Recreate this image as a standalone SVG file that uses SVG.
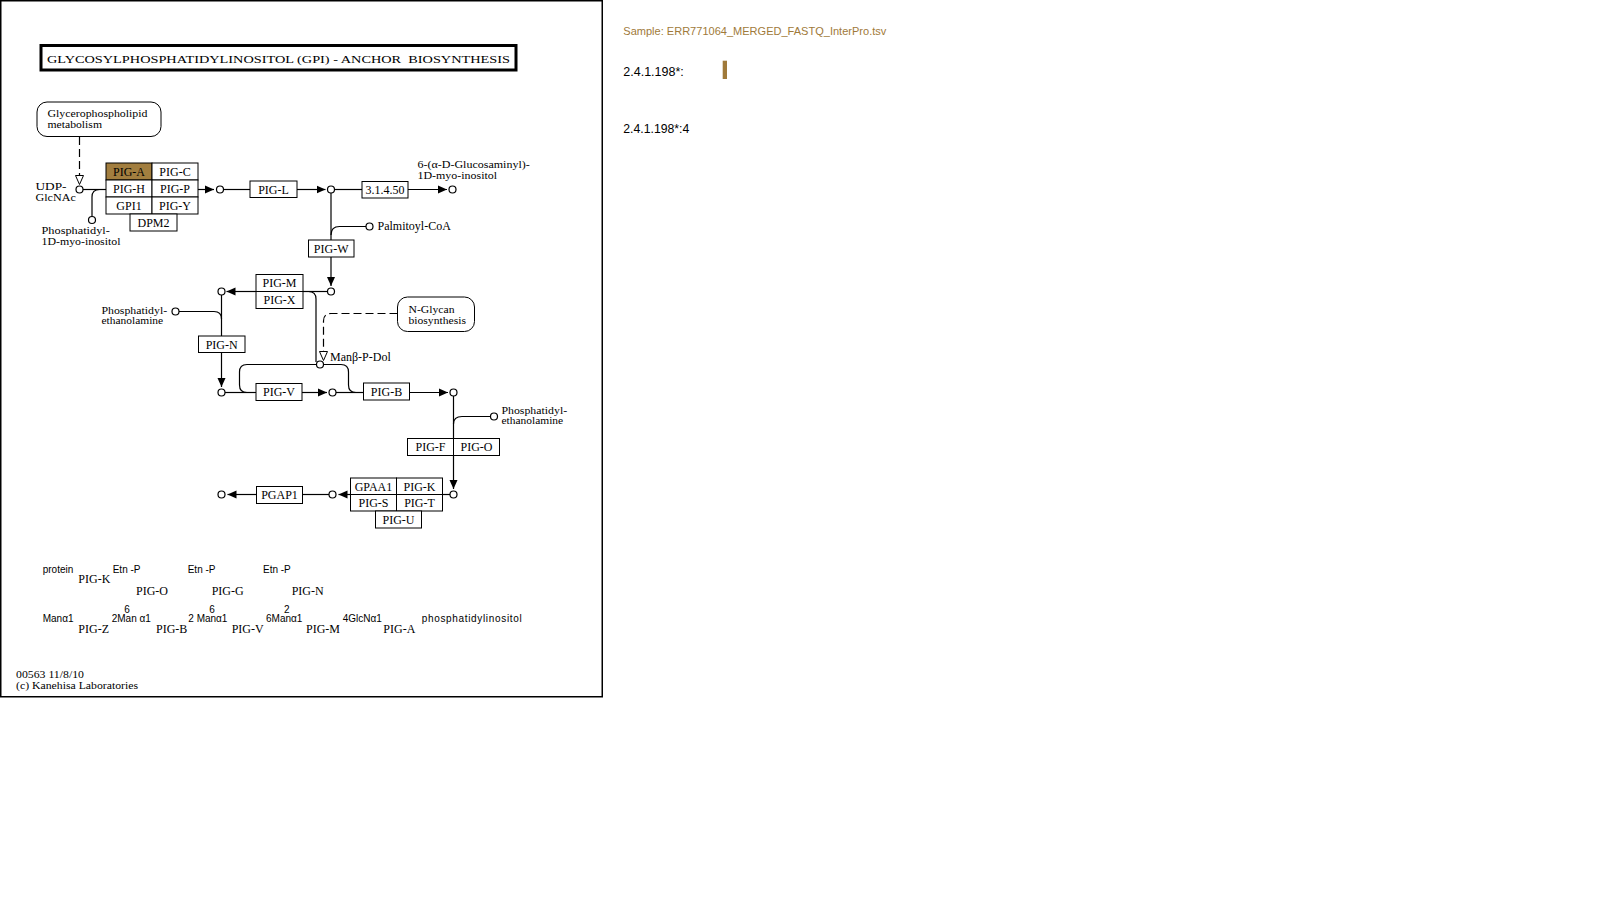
<svg xmlns="http://www.w3.org/2000/svg" width="1607" height="897" viewBox="0 0 1607 897">
<style>
.t{font-family:'Liberation Serif','Times New Roman',serif;font-size:12px;fill:#000}
.m{font-family:'Liberation Serif','Times New Roman',serif;font-size:10.5px;fill:#000}
.c{text-anchor:middle}
.s{font-family:'Liberation Sans',Arial,sans-serif;font-size:10px;fill:#000}
.r{font-family:'Liberation Sans',Arial,sans-serif;font-size:12px;fill:#000}
.box{fill:#fff;stroke:#000;stroke-width:1}
.hit{fill:#A27E3F;stroke:#000;stroke-width:1}
.ln{fill:none;stroke:#000;stroke-width:1.2}
.dash{stroke-dasharray:8,4}
.cp{fill:#fff;stroke:#000;stroke-width:1.2}
.map{fill:#fff;stroke:#000;stroke-width:1}
</style>
<defs>
<marker id="arr" markerUnits="userSpaceOnUse" markerWidth="10" markerHeight="9" refX="9" refY="4.5" orient="auto">
<path d="M0,0.5 L9,4.5 L0,8.5 z" fill="#000"/>
</marker>
<marker id="harr" markerUnits="userSpaceOnUse" markerWidth="11" markerHeight="10" refX="9.5" refY="5" orient="auto">
<path d="M0.5,1 L9.5,5 L0.5,9 z" fill="#fff" stroke="#000" stroke-width="1"/>
</marker>
</defs>
<rect x="0" y="0" width="1607" height="897" fill="#fff"/>
<rect id="frame" x="0.75" y="0.75" width="601.5" height="696" fill="none" stroke="#000" stroke-width="1.5"/>

<g id="title">
<rect x="41" y="45.5" width="475" height="24.5" fill="#fff" stroke="#000" stroke-width="3"/>
<text x="47" y="62.5" xml:space="preserve" font-family="'Liberation Serif','Times New Roman',serif" font-size="11" fill="#000" textLength="463" lengthAdjust="spacingAndGlyphs">GLYCOSYLPHOSPHATIDYLINOSITOL (GPI) - ANCHOR  BIOSYNTHESIS</text>
</g>

<g id="connectors">
<path class="ln dash" d="M79.5,137 V184.5" marker-end="url(#harr)"/>
<path class="ln" d="M83,189.5 H106"/>
<path class="ln" d="M92,216.5 V197 Q92,189.5 99.5,189.5"/>
<path class="ln" d="M198,189.5 H214" marker-end="url(#arr)"/>
<path class="ln" d="M223.5,189.5 H250"/>
<path class="ln" d="M297,189.5 H325.5" marker-end="url(#arr)"/>
<path class="ln" d="M334.5,189.5 H362"/>
<path class="ln" d="M408,189.5 H447" marker-end="url(#arr)"/>
<path class="ln" d="M331,193 V240"/>
<path class="ln" d="M366,226.5 H339.5 Q331,226.5 331,235"/>
<path class="ln" d="M331,257 V286" marker-end="url(#arr)"/>
<path class="ln" d="M327.5,291.5 H303"/>
<path class="ln" d="M256,291.5 H226.5" marker-end="url(#arr)"/>
<path class="ln" d="M303,291.5 H308.5 Q316,291.5 316,299 V362"/>
<path class="ln" d="M221.5,295 V336"/>
<path class="ln" d="M179,311.5 H214 Q221.5,311.5 221.5,319"/>
<path class="ln" d="M221.5,352.5 V387" marker-end="url(#arr)"/>
<path class="ln" d="M225,392.5 H256"/>
<path class="ln" d="M302,392.5 H327" marker-end="url(#arr)"/>
<path class="ln" d="M336,392.5 H363.5"/>
<path class="ln" d="M409.5,392.5 H448" marker-end="url(#arr)"/>
<path class="ln" d="M316.5,364.5 H247 Q239.5,364.5 239.5,372 V385 Q239.5,392.5 247,392.5"/>
<path class="ln" d="M323.5,364.5 H341 Q348.5,364.5 348.5,372 V385 Q348.5,392.5 356,392.5"/>
<path class="ln dash" d="M397.5,313.5 H331 Q323.5,313.5 323.5,321 V360.5" marker-end="url(#harr)"/>
<path class="ln" d="M453.5,396 V438.5"/>
<path class="ln" d="M490.5,416.5 H462 Q453.5,416.5 453.5,424"/>
<path class="ln" d="M453.5,455.5 V489" marker-end="url(#arr)"/>
<path class="ln" d="M450,494.5 H442.5"/>
<path class="ln" d="M350.5,494.5 H338.5" marker-end="url(#arr)"/>
<path class="ln" d="M329,494.5 H302.5"/>
<path class="ln" d="M256.5,494.5 H227.5" marker-end="url(#arr)"/>
</g>

<g id="map-glycerophospholipid">
<rect class="map" x="37" y="102" width="124" height="34.5" rx="10" ry="10"/>
<text class="m" x="47.5" y="116.5" textLength="100" lengthAdjust="spacingAndGlyphs">Glycerophospholipid</text>
<text class="m" x="47.5" y="127.5" textLength="54.5" lengthAdjust="spacingAndGlyphs">metabolism</text>
</g>
<g id="map-nglycan">
<rect class="map" x="397.5" y="297" width="77" height="34.5" rx="10" ry="10"/>
<text class="m" x="408.5" y="313" textLength="46" lengthAdjust="spacingAndGlyphs">N-Glycan</text>
<text class="m" x="408.5" y="324" textLength="57.4" lengthAdjust="spacingAndGlyphs">biosynthesis</text>
</g>

<g id="cpd-udp-glcnac">
<circle class="cp" cx="79.5" cy="189.5" r="3.5"/>
<text class="m" x="35.5" y="189.5" textLength="31" lengthAdjust="spacingAndGlyphs">UDP-</text>
<text class="m" x="35.5" y="200.5" textLength="40.3" lengthAdjust="spacingAndGlyphs">GlcNAc</text>
</g>
<g id="cpd-pi">
<circle class="cp" cx="92" cy="220" r="3.5"/>
<text class="m" x="41.5" y="233.5" textLength="68.3" lengthAdjust="spacingAndGlyphs">Phosphatidyl-</text>
<text class="m" x="41.5" y="244.5" textLength="79" lengthAdjust="spacingAndGlyphs">1D-myo-inositol</text>
</g>
<g id="cpd-c1"><circle class="cp" cx="220" cy="189.5" r="3.5"/></g>
<g id="cpd-c2"><circle class="cp" cx="331" cy="189.5" r="3.5"/></g>
<g id="cpd-glcn-inositol">
<circle class="cp" cx="452.5" cy="189.5" r="3.5"/>
<text class="m" x="417.5" y="167.5" textLength="112.3" lengthAdjust="spacingAndGlyphs">6-(α-D-Glucosaminyl)-</text>
<text class="m" x="417.5" y="178.5" textLength="79.6" lengthAdjust="spacingAndGlyphs">1D-myo-inositol</text>
</g>
<g id="cpd-palmitoyl">
<circle class="cp" cx="369.5" cy="226.5" r="3.5"/>
<text class="t" x="377.5" y="230">Palmitoyl-CoA</text>
</g>
<g id="cpd-c3"><circle class="cp" cx="331" cy="291.5" r="3.5"/></g>
<g id="cpd-c4"><circle class="cp" cx="221.5" cy="291.5" r="3.5"/></g>
<g id="cpd-pe1">
<circle class="cp" cx="175.5" cy="311.5" r="3.5"/>
<text class="m" x="101.5" y="313.5" textLength="65.6" lengthAdjust="spacingAndGlyphs">Phosphatidyl-</text>
<text class="m" x="101.5" y="324" textLength="61.6" lengthAdjust="spacingAndGlyphs">ethanolamine</text>
</g>
<g id="cpd-manpdol">
<circle class="cp" cx="320" cy="364.5" r="3.5"/>
<text class="t" x="330" y="361">Manβ-P-Dol</text>
</g>
<g id="cpd-c5"><circle class="cp" cx="221.5" cy="392.5" r="3.5"/></g>
<g id="cpd-c6"><circle class="cp" cx="332.5" cy="392.5" r="3.5"/></g>
<g id="cpd-c7"><circle class="cp" cx="453.5" cy="392.5" r="3.5"/></g>
<g id="cpd-pe2">
<circle class="cp" cx="494" cy="416.5" r="3.5"/>
<text class="m" x="501.5" y="413.5" textLength="65.6" lengthAdjust="spacingAndGlyphs">Phosphatidyl-</text>
<text class="m" x="501.5" y="424" textLength="61.6" lengthAdjust="spacingAndGlyphs">ethanolamine</text>
</g>
<g id="cpd-c8"><circle class="cp" cx="453.5" cy="494.5" r="3.5"/></g>
<g id="cpd-c9"><circle class="cp" cx="332.5" cy="494.5" r="3.5"/></g>
<g id="cpd-c10"><circle class="cp" cx="221.5" cy="494.5" r="3.5"/></g>

<g id="enz-pig-a-complex">
<rect class="hit" x="106" y="163" width="46" height="17"/>
<rect class="box" x="152" y="163" width="46" height="17"/>
<rect class="box" x="106" y="180" width="46" height="17"/>
<rect class="box" x="152" y="180" width="46" height="17"/>
<rect class="box" x="106" y="197" width="46" height="17"/>
<rect class="box" x="152" y="197" width="46" height="17"/>
<rect class="box" x="130" y="214" width="47" height="17"/>
<text class="t c" x="129" y="175.5">PIG-A</text>
<text class="t c" x="175" y="175.5">PIG-C</text>
<text class="t c" x="129" y="192.5">PIG-H</text>
<text class="t c" x="175" y="192.5">PIG-P</text>
<text class="t c" x="129" y="209.5">GPI1</text>
<text class="t c" x="175" y="209.5">PIG-Y</text>
<text class="t c" x="153.5" y="226.5">DPM2</text>
</g>
<g id="enz-pig-l">
<rect class="box" x="250" y="181" width="47" height="16.5"/>
<text class="t c" x="273.5" y="193.5">PIG-L</text>
</g>
<g id="enz-3.1.4.50">
<rect class="box" x="362" y="181.5" width="46" height="16.5"/>
<text class="t c" x="385" y="194">3.1.4.50</text>
</g>
<g id="enz-pig-w">
<rect class="box" x="308.5" y="240" width="45.5" height="17"/>
<text class="t c" x="331.2" y="252.5">PIG-W</text>
</g>
<g id="enz-pig-mx">
<rect class="box" x="256" y="274.5" width="47" height="17"/>
<rect class="box" x="256" y="291.5" width="47" height="17"/>
<text class="t c" x="279.5" y="287">PIG-M</text>
<text class="t c" x="279.5" y="304">PIG-X</text>
</g>
<g id="enz-pig-n">
<rect class="box" x="198.5" y="336" width="46.5" height="16.5"/>
<text class="t c" x="221.7" y="348.5">PIG-N</text>
</g>
<g id="enz-pig-v">
<rect class="box" x="256" y="383.5" width="46" height="17"/>
<text class="t c" x="279" y="396">PIG-V</text>
</g>
<g id="enz-pig-b">
<rect class="box" x="363.5" y="383" width="46" height="17"/>
<text class="t c" x="386.5" y="395.5">PIG-B</text>
</g>
<g id="enz-pig-fo">
<rect class="box" x="407.5" y="438.5" width="46" height="17"/>
<rect class="box" x="453.5" y="438.5" width="46" height="17"/>
<text class="t c" x="430.5" y="451">PIG-F</text>
<text class="t c" x="476.5" y="451">PIG-O</text>
</g>
<g id="enz-gpi-transamidase">
<rect class="box" x="350.5" y="478" width="46" height="16.5"/>
<rect class="box" x="396.5" y="478" width="46" height="16.5"/>
<rect class="box" x="350.5" y="494.5" width="46" height="16.5"/>
<rect class="box" x="396.5" y="494.5" width="46" height="16.5"/>
<rect class="box" x="375.5" y="511" width="46" height="17"/>
<text class="t c" x="373.5" y="490.5">GPAA1</text>
<text class="t c" x="419.5" y="490.5">PIG-K</text>
<text class="t c" x="373.5" y="507">PIG-S</text>
<text class="t c" x="419.5" y="507">PIG-T</text>
<text class="t c" x="398.5" y="523.5">PIG-U</text>
</g>
<g id="enz-pgap1">
<rect class="box" x="256.5" y="486.5" width="46" height="17"/>
<text class="t c" x="279.5" y="499">PGAP1</text>
</g>

<g id="legend">
<text class="s" x="42.7" y="573.3">protein</text>
<text class="s" x="112.7" y="573.3">Etn -P</text>
<text class="s" x="187.7" y="573.3">Etn -P</text>
<text class="s" x="263" y="573.3">Etn -P</text>
<text class="t" x="78.3" y="583.3">PIG-K</text>
<text class="t" x="136" y="595">PIG-O</text>
<text class="t" x="211.7" y="595">PIG-G</text>
<text class="t" x="291.7" y="595">PIG-N</text>
<text class="s" x="42.7" y="622.3">Manα1</text>
<text class="s" x="111.7" y="622.3">2Man α1</text>
<text class="s" x="124.3" y="613.3">6</text>
<text class="s" x="188.3" y="622.3">2 Manα1</text>
<text class="s" x="209.3" y="613.3">6</text>
<text class="s" x="266" y="622.3">6Manα1</text>
<text class="s" x="284" y="613.3">2</text>
<text class="s" x="342.7" y="622.3">4GlcNα1</text>
<text class="s" x="421.7" y="622.3" textLength="100" lengthAdjust="spacing">phosphatidylinositol</text>
<text class="t" x="78.3" y="633.3">PIG-Z</text>
<text class="t" x="156" y="633.3">PIG-B</text>
<text class="t" x="231.7" y="633.3">PIG-V</text>
<text class="t" x="306" y="633.3">PIG-M</text>
<text class="t" x="383.3" y="633.3">PIG-A</text>
</g>

<g id="footer">
<text class="m" x="16" y="677.5" textLength="68" lengthAdjust="spacingAndGlyphs">00563 11/8/10</text>
<text class="m" x="16" y="688.5" textLength="122" lengthAdjust="spacingAndGlyphs">(c) Kanehisa Laboratories</text>
</g>

<g id="sample-panel">
<text x="623.3" y="35" font-family="'Liberation Sans',Arial,sans-serif" font-size="11" fill="#A07A3A" textLength="263" lengthAdjust="spacingAndGlyphs">Sample: ERR771064_MERGED_FASTQ_InterPro.tsv</text>
<text class="r" x="623.3" y="75.7" textLength="60.5" lengthAdjust="spacingAndGlyphs">2.4.1.198*:</text>
<rect x="722.7" y="60.7" width="4.3" height="18.3" fill="#A07A3A"/>
<text class="r" x="623.3" y="133.3" textLength="66" lengthAdjust="spacingAndGlyphs">2.4.1.198*:4</text>
</g>
</svg>
